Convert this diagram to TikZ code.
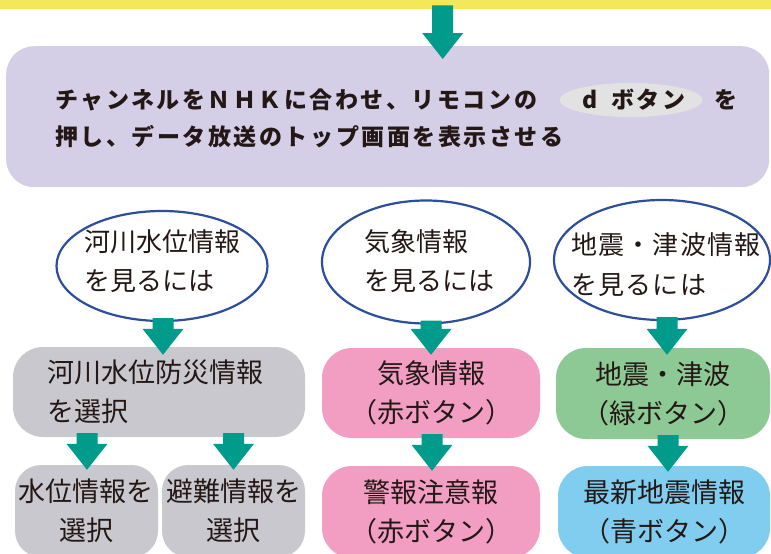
\documentclass[tikz,border=0pt]{standalone}
\usepackage{fontspec}
\setmainfont{Noto Sans CJK JP}
\newfontfamily\jptop{Noto Sans CJK JP}[LetterSpace=11]
\newfontfamily\jpell{Noto Sans CJK JP}
\newfontfamily\jpellwide{Noto Sans CJK JP}[LetterSpace=4]
\newfontfamily\jpbox{Noto Sans CJK JP}
\usetikzlibrary{calc,shapes.geometric}
\definecolor{yellowc}{HTML}{F3E85A}
\definecolor{arrowc}{HTML}{009B8A}
\definecolor{lavc}{HTML}{D4CEE6}
\definecolor{pillc}{HTML}{E2E2E2}
\definecolor{ellc}{HTML}{2C4E9C}
\definecolor{grayc}{HTML}{C9C8CE}
\definecolor{pinkc}{HTML}{F19EC2}
\definecolor{greenc}{HTML}{8CC994}
\definecolor{bluec}{HTML}{80CDF0}
\definecolor{textc}{HTML}{231815}
\tikzset{
  toptext/.style={font=\jptop\bfseries\fontsize{23pt}{26pt}\selectfont, text=textc, inner sep=0pt},
  bubble/.style={ellipse, draw=ellc, line width=2.2pt, fill=white, inner sep=0pt},
  bubbletext/.style={font=\jpell\fontsize{26pt}{39pt}\selectfont, text=textc, align=left, inner sep=0pt},
  boxbase/.style={rounded corners=30pt, inner sep=0pt, font=\jpbox\fontsize{27pt}{39pt}\selectfont, text=textc, align=center},
  graybox/.style={boxbase, fill=grayc},
  pinkbox/.style={boxbase, fill=pinkc},
  greenbox/.style={boxbase, fill=greenc},
  bluebox/.style={boxbase, fill=bluec},
}
\newcommand\blkarrow[4]{%
  \fill[arrowc] let \p1=(#1.south), \p2=(#2.north) in
  ({\x2+#3-10.5pt},{\y1+4pt}) -- ({\x2+#3+10.5pt},{\y1+4pt}) --
  ({\x2+#3+10.5pt},{\y2-#4+26pt}) -- ({\x2+#3+20.5pt},{\y2-#4+26pt}) --
  ({\x2+#3},{\y2-#4}) --
  ({\x2+#3-20.5pt},{\y2-#4+26pt}) -- ({\x2+#3-10.5pt},{\y2-#4+26pt}) -- cycle;}
\begin{document}
\begin{tikzpicture}[x=1pt,y=-1pt]
\useasboundingbox (0,0) rectangle (771,554);
% top band
\node[fill=yellowc, minimum width=771pt, minimum height=9pt, inner sep=0pt, anchor=north west] (band) at (0,0) {};
% main box
\node[fill=lavc, rounded corners=28pt, minimum width=763pt, minimum height=141pt, inner sep=0pt, anchor=north west] (main) at (6,46) {};
\node[toptext, anchor=west] (t1) at (55,100) {チャンネルをＮＨＫに合わせ、リモコンの};
\node[ellipse, fill=pillc, minimum width=143pt, minimum height=34pt, inner sep=0pt] (pill) at (631,100) {};
\node[toptext] (dbtn) at (634,100) {d\hspace{13pt}ボタン};
\node[toptext] (wo) at (726,100) {を};
\node[toptext, anchor=west] (t2) at (55,137) {押し、データ放送のトップ画面を表示させる};
% bubbles
\node[bubble, minimum width=211pt, minimum height=110pt] (e1) at (162,266) {};
\node[bubbletext] (e1t) at (162,261) {河川水位情報\\を見るには};
\node[bubble, minimum width=208pt, minimum height=123pt] (e2) at (426,262) {};
\node[bubbletext] (e2t) at (429,261) {気象情報\\を見るには};
\node[bubble, minimum width=216pt, minimum height=120pt] (e3) at (662,260) {};
\node[bubbletext, font=\jpellwide\fontsize{26pt}{40pt}\selectfont] (e3t) at (666,265) {地震・津波情報\\を見るには};
% boxes
\node[graybox, align=left, text width=224pt, minimum width=292pt, minimum height=90pt] (g1) at (159,392) {河川水位防災情報\\を選択};
\node[graybox, rounded corners=26pt, minimum width=143pt, minimum height=92pt] (sA) at (86.5,511) {水位情報を\\選択};
\node[graybox, rounded corners=26pt, minimum width=143pt, minimum height=92pt] (sB) at (233.5,511) {避難情報を\\選択};
\node[pinkbox, minimum width=218pt, minimum height=90pt] (p1) at (431,393) {気象情報\\（赤ボタン）};
\node[pinkbox, minimum width=218pt, minimum height=92pt] (p2) at (431,512) {警報注意報\\（赤ボタン）};
\node[greenbox, minimum width=214pt, minimum height=91pt] (gr1) at (663,393.5) {地震・津波\\（緑ボタン）};
\node[bluebox, minimum width=212pt, minimum height=92pt] (bl) at (664,512) {最新地震情報\\（青ボタン）};
% arrows
\blkarrow{band}{main}{55pt}{13pt}
\blkarrow{e1}{g1}{4pt}{8pt}
\blkarrow{e2}{p1}{0pt}{7pt}
\blkarrow{e3}{gr1}{4pt}{7pt}
\blkarrow{g1}{sA}{0.5pt}{5pt}
\blkarrow{g1}{sB}{0pt}{5pt}
\blkarrow{p1}{p2}{1pt}{5pt}
\blkarrow{gr1}{bl}{4pt}{6pt}
\end{tikzpicture}
\end{document}
